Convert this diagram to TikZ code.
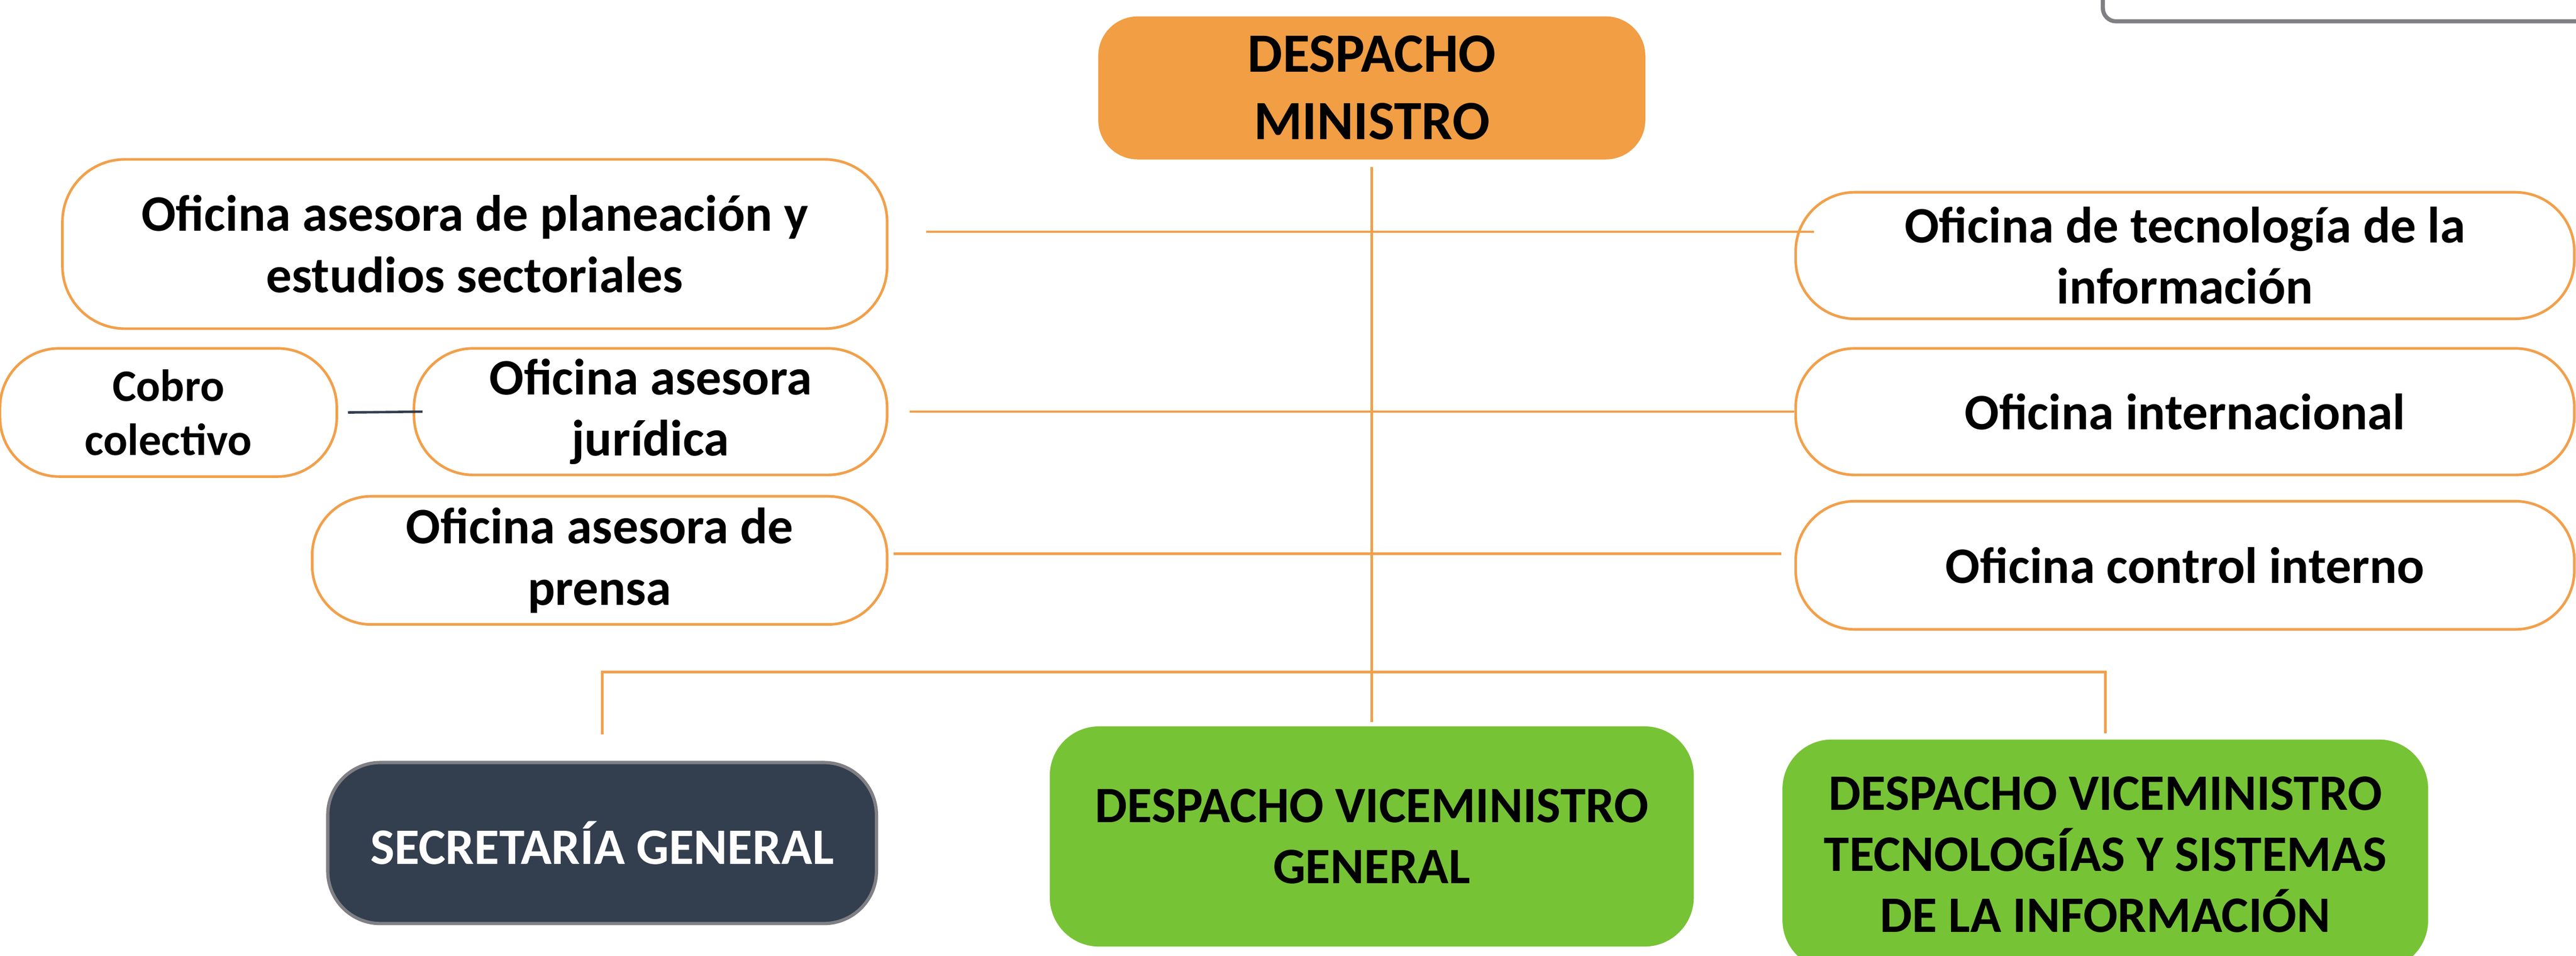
\documentclass[tikz,border=0pt]{standalone}
\usepackage{fontspec}
\setmainfont{Carlito}
\definecolor{orgfill}{RGB}{241,158,68}
\definecolor{orgline}{RGB}{241,160,75}
\definecolor{grnfill}{RGB}{119,195,54}
\definecolor{navy}{RGB}{51,63,79}
\definecolor{greyline}{RGB}{128,128,132}

\begin{document}
\begin{tikzpicture}[x=0.1mm, y=-0.1mm,
    txt/.style={font=\fontsize{8.85}{10.6}\selectfont\bfseries, align=center, inner sep=0pt},
    ofi/.style={txt, draw=orgline, line width=0.16mm, fill=white, rounded corners=3.6mm},
    desp/.style={txt, fill=grnfill, rounded corners=3mm},
    oline/.style={draw=orgline, line width=0.15mm},
    nline/.style={draw=navy, line width=0.15mm}]
    \useasboundingbox (0,0) rectangle (1568,581.7);
    \clip (0,0) rectangle (1568,581.7);

    \node[draw=greyline, line width=0.25mm, rounded corners=0.8mm, minimum width=36mm, minimum height=8mm] (topbox) at (1460,-27) {};

    \node[txt, fill=orgfill, rounded corners=2.4mm, minimum width=33.3mm, minimum height=8.7mm,
          font=\fontsize{9.6}{11.7}\selectfont\bfseries] (mini) at (835,53.5) {DESPACHO\\MINISTRO};

    \node[ofi, rounded corners=3.8mm, minimum width=50.2mm, minimum height=10.3mm] (plan) at (289,148.5) {Oficina asesora de planeación y\\estudios sectoriales};
    \node[ofi, minimum width=20.5mm, minimum height=7.8mm, font=\fontsize{7.8}{9.4}\selectfont\bfseries] (cobro) at (102.5,251) {Cobro\\colectivo};
    \node[ofi, minimum width=28.8mm, minimum height=7.7mm] (juri) at (396,250.5) {Oficina asesora\\jurídica};
    \node[ofi, minimum width=35mm, minimum height=7.8mm] (prensa) at (365,341) {Oficina asesora de\\prensa};

    \node[ofi, minimum width=47.4mm, minimum height=7.7mm] (tecno) at (1330,155.5) {Oficina de tecnología de la\\información};
    \node[ofi, minimum width=47.4mm, minimum height=7.7mm] (inter) at (1330,250.5) {Oficina internacional};
    \node[ofi, minimum width=47.4mm, minimum height=7.8mm] (control) at (1330,344) {Oficina control interno};

    \node[txt, fill=navy, draw=greyline, line width=0.2mm, rounded corners=3.2mm, text=white,
          minimum width=33.4mm, minimum height=9.8mm] (secre) at (366.5,513) {SECRETARÍA GENERAL};
    \node[desp, minimum width=39.2mm, minimum height=13.4mm] (vgen) at (835,509) {DESPACHO VICEMINISTRO\\GENERAL};
    \node[desp, minimum width=39.3mm, minimum height=14mm] (vtec) at (1281.5,520) {DESPACHO VICEMINISTRO\\TECNOLOGÍAS Y SISTEMAS\\DE LA INFORMACIÓN};

    \draw[oline] ([yshift=-0.4mm]mini.south) -- ([yshift=0.2mm]vgen.north);
    \draw[oline] ([shift={(23,-7.5)}]plan.east) -- ([shift={(12,-14.5)}]tecno.west);
    \draw[oline] ([xshift=1.3mm]juri.east) -- (inter.west);
    \draw[oline] ([shift={(3,-4)}]prensa.east) -- ([shift={(-8,-7)}]control.west);
    \draw[oline] ([yshift=1.6mm]secre.north) -- ++(0,-38) -| ([yshift=0.3mm]vtec.north);
    \draw[nline] ([xshift=0.6mm]cobro.east) -- ([xshift=0.6mm]juri.west);
\end{tikzpicture}
\end{document}
